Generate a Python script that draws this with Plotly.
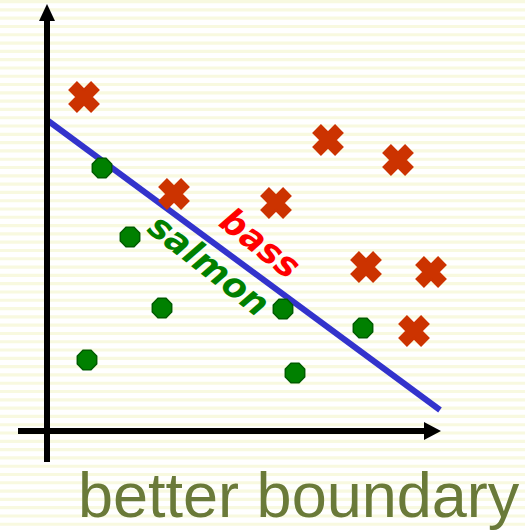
import plotly.graph_objects as go

# Feature space (arbitrary units, origin at the axes crossing)
bass_x = [0.925, 7.025, 8.775, 3.175, 5.725, 7.975, 9.6, 9.175]
bass_y = [8.35, 7.275, 6.775, 5.925, 5.7, 4.1, 3.975, 2.5]

salmon_x = [1.375, 2.075, 2.875, 5.9, 7.9, 1.0, 6.2]
salmon_y = [6.575, 4.85, 3.075, 3.05, 2.575, 1.775, 1.45]

# Decision boundary end points
boundary_x = [0.0, 9.825]
boundary_y = [7.775, 0.525]

X_RANGE = [-1.175, 11.95]
Y_RANGE = [-2.5, 10.775]

fig = go.Figure()

fig.add_trace(go.Scatter(
    x=boundary_x, y=boundary_y, mode="lines",
    line=dict(color="#3333CC", width=6), hoverinfo="skip", showlegend=False))

fig.add_trace(go.Scatter(
    x=bass_x, y=bass_y, mode="markers", name="bass",
    marker=dict(symbol="x", size=25, color="#CC3300",
                line=dict(color="#CC3300", width=2.5)),
    showlegend=False))

fig.add_trace(go.Scatter(
    x=salmon_x, y=salmon_y, mode="markers", name="salmon",
    marker=dict(symbol="octagon", size=21, color="#008000",
                line=dict(color="#005C00", width=1.5)),
    showlegend=False))

shapes = []
# striped paper background
n_stripes = 64
period = 1.0 / n_stripes
for i in range(n_stripes + 1):
    top = 1.0 - i * period
    shapes.append(dict(type="rect", xref="paper", yref="paper",
                       x0=0, x1=1, y0=top - period * 0.38, y1=top,
                       fillcolor="#F8F9E0", line=dict(width=0), layer="below"))

# axes with arrow heads
shapes.append(dict(type="line", xref="x", yref="y", x0=0, x1=0, y0=-0.775, y1=10.3,
                   line=dict(color="black", width=6)))
shapes.append(dict(type="path", xref="x", yref="y",
                   path="M -0.2 10.25 L 0.2 10.25 L 0 10.675 Z",
                   fillcolor="black", line=dict(width=0)))
shapes.append(dict(type="line", xref="x", yref="y", x0=-0.725, x1=9.45, y0=0, y1=0,
                   line=dict(color="black", width=6)))
shapes.append(dict(type="path", xref="x", yref="y",
                   path="M 9.425 0.225 L 9.425 -0.225 L 9.85 0 Z",
                   fillcolor="black", line=dict(width=0)))

annotations = [
    dict(x=5.325, y=4.7, xref="x", yref="y", text="bass", showarrow=False,
         textangle=38, font=dict(family="DejaVu Sans", size=35, color="#FF0000",
                                 weight="bold", style="italic")),
    dict(x=4.05, y=4.15, xref="x", yref="y", text="salmon", showarrow=False,
         textangle=38, font=dict(family="DejaVu Sans", size=35, color="#008000",
                                 weight="bold", style="italic")),
    dict(x=298.5 / 525, y=0, xref="paper", yref="paper",
         text="better boundary", showarrow=False, xanchor="center", yanchor="bottom",
         borderpad=0,
         font=dict(family="Liberation Sans", size=63, color="#6A7A39")),
]

fig.update_layout(
    width=525, height=531,
    margin=dict(l=0, r=0, t=0, b=0),
    paper_bgcolor="white", plot_bgcolor="rgba(0,0,0,0)",
    xaxis=dict(range=X_RANGE, visible=False, fixedrange=True),
    yaxis=dict(range=Y_RANGE, visible=False, fixedrange=True),
    shapes=shapes, annotations=annotations,
)

fig.write_html("out.html")
